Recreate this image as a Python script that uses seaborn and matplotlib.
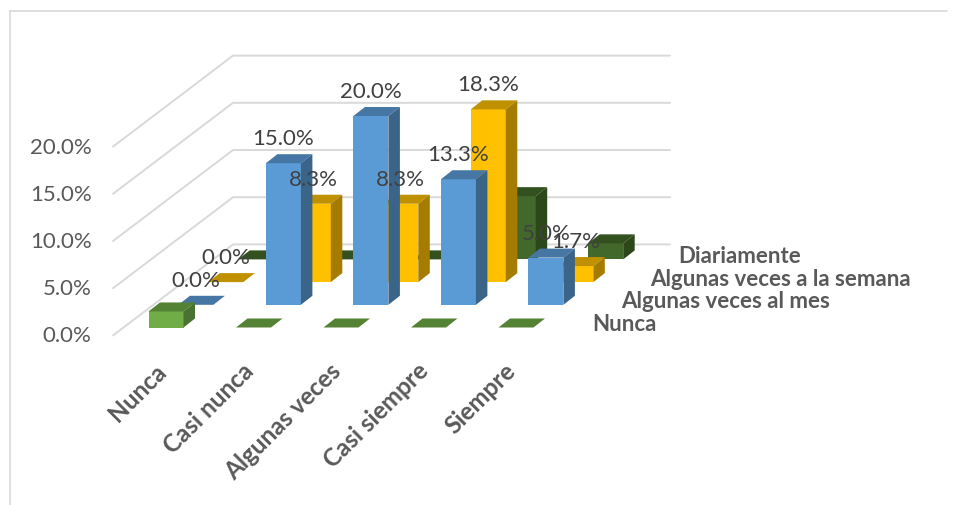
import matplotlib
matplotlib.use('Agg')
import matplotlib.pyplot as plt
from matplotlib.lines import Line2D
from matplotlib.patches import Polygon
import numpy as np
import pandas as pd
import seaborn as sns

categories = ['Nunca', 'Casi nunca', 'Algunas veces', 'Casi siempre', 'Siempre']
series_names = ['Nunca', 'Algunas veces al mes', 'Algunas veces a la semana', 'Diariamente']
nunca = [1.7, 0.0, 0.0, 0.0, 0.0]
al_mes = [0.0, 15.0, 20.0, 13.3, 5.0]
a_la_semana = [0.0, 8.3, 8.3, 18.3, 1.7]
diariamente = [0.0, 0.0, 0.0, 6.7, 1.7]
y_ticks = [0, 5, 10, 15, 20]

# pixel scale of the picture
W, H = 958, 506
PX_X = 87.5    # px per category
PX_Y = 9.44    # px per percent
X0, Y0 = 166, 328.5   # where category 0 / value 0 of the front row sits
# oblique depth
ROW_DX = 29.9 / PX_X
ROW_DY = 22.7 / PX_Y
BAR_DX = 11.5 / PX_X
BAR_DY = 9.0 / PX_Y
BAR_W = 35 / PX_X
WALL_X0 = (113 - X0) / PX_X
WALL_X1 = (233 - X0) / PX_X
GRID_END = (670 - X0) / PX_X
FRONT, BACK = -0.35, 3.66
GREY = '#D9D9D9'

sns.set_theme(style='white')
plt.rcParams['font.family'] = ['Lato', 'DejaVu Sans']

fig = plt.figure(figsize=(W / 100, H / 100), dpi=100)
left, right, top, bottom = 100, 950, 10, 340
ax = fig.add_axes([left / W, 1 - bottom / H, (right - left) / W, (bottom - top) / H])
ax.patch.set_alpha(0)


def draw_series(ax, values, row, front, top_col, side, labels):
    """Draw one row of the 3D bars: seaborn front faces, then top and side faces."""
    shift_x, shift_y = row * ROW_DX, row * ROW_DY
    df = pd.DataFrame({'x': np.arange(len(values)) + shift_x, 'y': values})
    n_before = len(ax.patches)
    sns.barplot(data=df, x='x', y='y', native_scale=True, width=BAR_W, color=front,
                saturation=1, linewidth=0, ax=ax)
    for bar, val in zip(list(ax.patches[n_before:]), values):
        x0, w = bar.get_x(), bar.get_width()
        y0, y1 = shift_y, shift_y + val
        bar.set_y(y0)
        bar.set_height(val)
        ax.add_patch(Polygon([(x0, y1), (x0 + w, y1), (x0 + w + BAR_DX, y1 + BAR_DY),
                              (x0 + BAR_DX, y1 + BAR_DY)], closed=True, fc=top_col, ec='none'))
        if val > 0:
            ax.add_patch(Polygon([(x0 + w, y0), (x0 + w + BAR_DX, y0 + BAR_DY),
                                  (x0 + w + BAR_DX, y1 + BAR_DY), (x0 + w, y1)],
                                 closed=True, fc=side, ec='none'))
        if labels:
            ax.annotate(f'{val:.1f}%', (x0 + w / 2, y1), xytext=(0, 18), textcoords='offset points',
                        ha='center', va='center', fontsize=16, color='#404040', zorder=5)


# walls
for t in y_ticks:
    y_back = t + BACK * ROW_DY
    ax.plot([WALL_X0, WALL_X1, GRID_END], [t + FRONT * ROW_DY, y_back, y_back],
            color=GREY, lw=1.4, zorder=0.5, solid_joinstyle='miter')

draw_series(ax, diariamente, 3, '#43682B', '#33511F', '#2C4719', False)
draw_series(ax, a_la_semana, 2, '#FFC000', '#BF9000', '#A67C00', True)
draw_series(ax, al_mes, 1, '#5B9BD5', '#4677A4', '#3A6488', True)
draw_series(ax, nunca, 0, '#70AD47', '#548235', '#4A7230', False)

ax.set_xlim((left - X0) / PX_X, (right - X0) / PX_X)
ax.set_ylim((Y0 - bottom) / PX_Y, (Y0 - top) / PX_Y)

ax.set_xticks([i - 12 / PX_X for i in range(len(categories))])
ax.set_xticklabels(categories, rotation=45, ha='right', va='top', rotation_mode='anchor',
                   fontsize=17.5, fontweight='bold', color='#595959')
ax.set_yticks([t + FRONT * ROW_DY + 2 / PX_Y for t in y_ticks])
ax.set_yticklabels([f'{t:.1f}%' for t in y_ticks], fontsize=16, color='#595959')
ax.tick_params(axis='x', length=0, pad=14)
ax.tick_params(axis='y', length=0, pad=6)
ax.set_xlabel('')
ax.set_ylabel('')
sns.despine(ax=ax, left=True, bottom=True)

# row names at the depth end of the chart
for row, name in enumerate(series_names):
    ax.text(4.875 + row * 28.6 / PX_X, 0.42 + row * ROW_DY, name, ha='left', va='center',
            fontsize=16, fontweight='bold', color='#595959')

# chart frame
fig.add_artist(Line2D([10 / W, 10 / W], [0, 1 - 12 / H], color=GREY, lw=1.2))
fig.add_artist(Line2D([10 / W, 947 / W], [1 - 12 / H, 1 - 12 / H], color=GREY, lw=1.2))

fig.savefig('out.png', dpi=100)
